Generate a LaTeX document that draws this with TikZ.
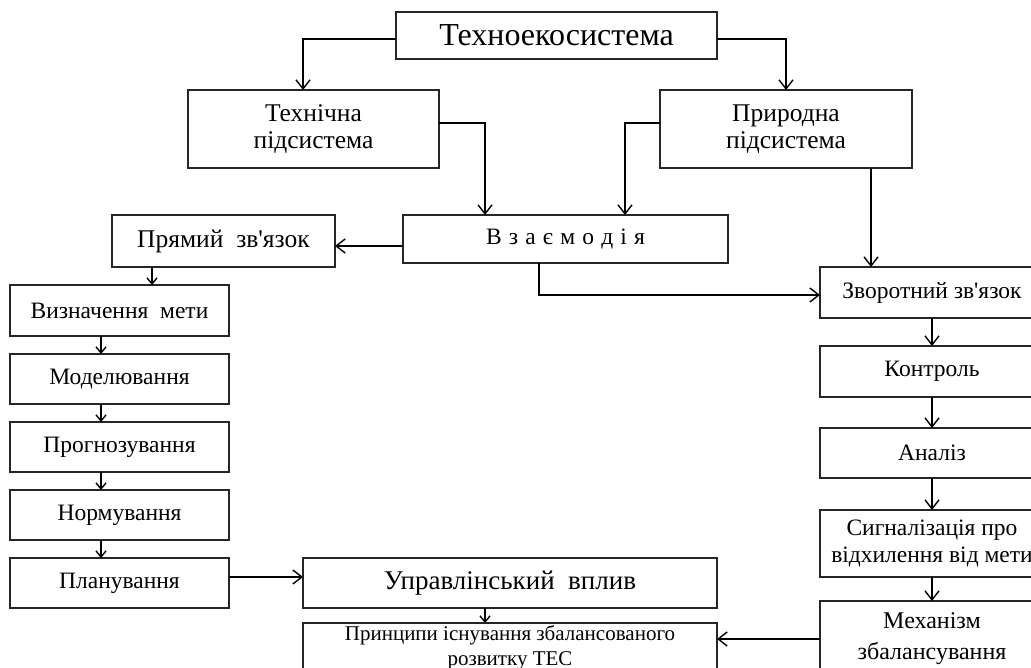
\documentclass[tikz,border=0pt]{standalone}
\usepackage{fontspec}
\setmainfont{Liberation Serif}
\usetikzlibrary{arrows.meta,calc}
\newcommand{\ap}{\textquotesingle}
\newcommand{\lsp}{\hspace{7.2pt}}
\begin{document}
\begin{tikzpicture}[x=1pt,y=-1pt,
  box/.style={draw=black!85,line width=1.5pt,rectangle,inner sep=0pt,outer sep=0pt,align=center,font=\fontsize{23.5}{27}\selectfont},
  arr/.style={line width=1.4pt,-{Straight Barb[length=9pt,width=14pt,line width=1.4pt]}},
  sarr/.style={line width=1.4pt,-{Straight Barb[length=6pt,width=10pt,line width=1.4pt]}}]
\useasboundingbox (0,0) rectangle (1031,668);
\clip (0,0) rectangle (1031,668);
\fill[white] (0,0) rectangle (1031,668);
% top level
\node[box,minimum width=321,minimum height=47,font=\fontsize{32}{36}\selectfont] (tes) at (556.5,35.5) {Техноекосистема};
\node[box,minimum width=251,minimum height=78,font=\fontsize{25.5}{27}\selectfont] (tech) at (313.5,129) {Технічна\\підсистема};
\node[box,minimum width=252,minimum height=78,font=\fontsize{25.5}{27}\selectfont] (prir) at (786,129) {Природна\\підсистема};
\node[box,minimum width=325,minimum height=48] (vz) at (565.5,239) {В\lsp з\lsp а\lsp є\lsp м\lsp о\lsp д\lsp і\lsp я};
\node[box,minimum width=223,minimum height=52,font=\fontsize{25.5}{27}\selectfont] (pryam) at (223.5,241) {Прямий\ \ зв\ap язок};
% left column
\node[box,minimum width=219,minimum height=51] (vyzn) at (119.5,310.5) {Визначення\ \ мети};
\node[box,minimum width=219,minimum height=50] (model) at (119.5,379) {Моделювання};
\node[box,minimum width=219,minimum height=50] (progn) at (119.5,447) {Прогнозування};
\node[box,minimum width=219,minimum height=50] (norm) at (119.5,515) {Нормування};
\node[box,minimum width=219,minimum height=50] (plan) at (119.5,583) {Планування};
% bottom middle
\node[box,minimum width=414,minimum height=50,font=\fontsize{27}{30}\selectfont] (upr) at (510,583) {Управлінський\ \ вплив};
\node[box,minimum width=414,minimum height=50,font=\fontsize{21}{25}\selectfont] (prin) at (510,648) {Принципи існування збалансованого\\розвитку ТЕС};
% right column
\node[box,minimum width=224,minimum height=51] (zvor) at (932,292.5) {Зворотний зв\ap язок};
\node[box,minimum width=224,minimum height=51] (kontr) at (932,371.5) {Контроль};
\node[box,minimum width=224,minimum height=50] (anal) at (932,453) {Аналіз};
\node[box,minimum width=224,minimum height=67,font=\fontsize{23.5}{27}\selectfont] (sygn) at (932,543.5) {Сигналізація про\\відхилення від мети};
\node[box,minimum width=224,minimum height=76,font=\fontsize{24}{31}\selectfont] (mekh) at (932,639) {Механізм\\збалансування};
% connectors
\draw[arr] ([yshift=-3.5pt]tes.west) -| ([xshift=-10.5pt]tech.north);
\draw[arr] ([yshift=-3.5pt]tes.east) -| (prir.north);
\draw[arr] ([yshift=6pt]tech.east) -| ([xshift=-80.5pt]vz.north);
\draw[arr] ([yshift=6pt]prir.west) -| ([xshift=59.5pt]vz.north);
\draw[arr] ([xshift=85pt]prir.south) -- ([xshift=85pt]prir.south |- zvor.north);
\draw[arr] ([yshift=-7pt]vz.west) -- ([yshift=-7pt]vz.west -| pryam.east);
\draw[arr] ([xshift=-26.5pt]vz.south) |- ([yshift=-2.5pt]zvor.west);
\draw[sarr] ([xshift=-71.5pt]pryam.south) -- ([xshift=-71.5pt]pryam.south |- vyzn.north);
\foreach \a/\b in {vyzn/model,model/progn,progn/norm,norm/plan}
  \draw[sarr] ([xshift=-18.5pt]\a.south) -- ([xshift=-18.5pt]\b.north);
\draw[arr] ([yshift=6pt]plan.east) -- ([yshift=6pt]plan.east -| upr.west);
\draw[sarr] ([xshift=-25pt]upr.south) -- ([xshift=-25pt]prin.north);
\foreach \a/\b in {zvor/kontr,kontr/anal,anal/sygn,sygn/mekh}
  \draw[arr] (\a.south) -- (\b.north);
\draw[arr] (mekh.west) -- (mekh.west -| prin.east);
\end{tikzpicture}
\end{document}
